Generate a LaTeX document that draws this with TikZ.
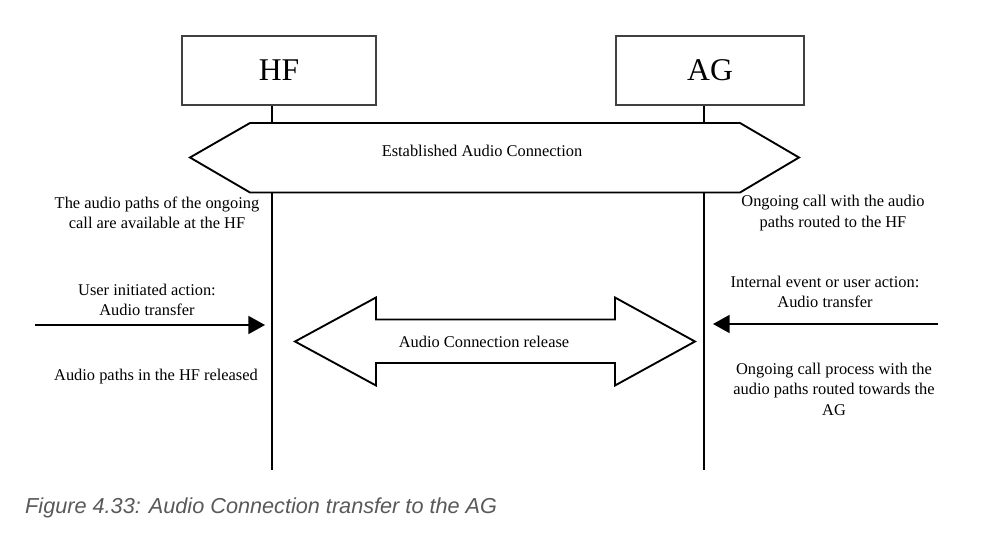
\documentclass[tikz,border=0pt]{standalone}
\usepackage{fontspec}
\setmainfont{Liberation Serif}
\newfontfamily\capfont{Liberation Sans}
\usetikzlibrary{arrows.meta}
\definecolor{capgray}{HTML}{595959}
\begin{document}
\begin{tikzpicture}[x=.03cm,y=-.03cm,line join=miter,
  ent/.style={draw=black!75,line width=.9pt,minimum height=2.07cm,inner sep=0pt,
    font=\fontsize{27}{32}\selectfont},
  life/.style={line width=1.6pt},
  note/.style={align=center,inner sep=0pt,font=\fontsize{14}{17.5}\selectfont},
  msg/.style={line width=1.6pt,-{Triangle[length=.5cm,width=.54cm]}}]
  \useasboundingbox (0,0) rectangle (999,544);
  \node[ent,minimum width=5.82cm] (hf) at (279,70.5) {\raisebox{-.08cm}{HF}};
  \node[ent,minimum width=5.64cm] (ag) at (710,70.5) {\raisebox{-.08cm}{AG}};
  \coordinate (hfend) at (272,470);
  \coordinate (agend) at (704,470);
  \draw[life] (hfend |- hf.south) -- (hfend);
  \draw[life] (agend |- ag.south) -- (agend);
  \draw[life,fill=white] (190,157.5) -- (250,123) -- (740,123) -- (799,157.5)
    -- (740,192.5) -- (250,192.5) -- cycle;
  \node[note] (est) at (482,151) {Established Audio Connection};
  \draw[life,fill=white] (295,341.5) -- (376,297.5) -- (376,319.5) -- (615,319.5)
    -- (615,297.5) -- (695,341.5) -- (615,385.5) -- (615,363) -- (376,363)
    -- (376,385.5) -- cycle;
  \node[note] (rel) at (484,342) {Audio Connection release};
  \coordinate (usr) at (35,325);
  \coordinate (evt) at (938,324);
  \draw[msg] (usr) -- ([xshift=-.21cm]usr -| hfend);
  \draw[msg] (evt) -- ([xshift=.27cm]evt -| agend);
  \node[note] (hfa) at (157,213) {The audio paths of the ongoing\\call are available at the HF};
  \node[note] (hfb) at (147,300) {User initiated action:\\Audio transfer};
  \node[note] (hfc) at (156,377) {Audio paths in the HF released};
  \node[note] (aga) at (833,213) {Ongoing call with the audio\\paths routed to the HF};
  \node[note] (agb) at (825,292) {Internal event or user action:\\Audio transfer};
  \node[note] (agc) at (834,389) {Ongoing call process with the\\audio paths routed towards the\\AG};
  \node[anchor=base west,inner sep=0pt,text=capgray,
    font=\capfont\itshape\fontsize{18.5}{22}\selectfont] (cap) at (25,513)
    {Figure 4.33: Audio Connection transfer to the AG};
\end{tikzpicture}
\end{document}
